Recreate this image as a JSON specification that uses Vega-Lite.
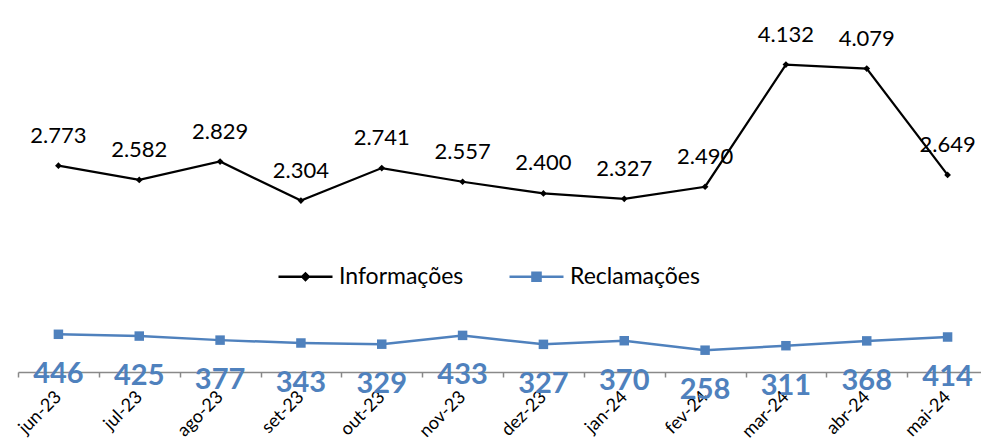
{
  "$schema": "https://vega.github.io/schema/vega-lite/v6.json",
  "width": 963,
  "height": 372,
  "autosize": {"type": "none"},
  "padding": {"left": 18, "top": 0, "right": 0, "bottom": 68},
  "background": "white",
  "config": {
    "view": {"stroke": null},
    "font": "Lato",
    "locale": {"number": {"decimal": ",", "thousands": ".", "grouping": [3], "currency": ["R$", ""]}}
  },
  "data": {
    "values": [
      {"mes": "jun-23", "serie": "Informações", "valor": 2773},
      {"mes": "jul-23", "serie": "Informações", "valor": 2582},
      {"mes": "ago-23", "serie": "Informações", "valor": 2829},
      {"mes": "set-23", "serie": "Informações", "valor": 2304},
      {"mes": "out-23", "serie": "Informações", "valor": 2741},
      {"mes": "nov-23", "serie": "Informações", "valor": 2557},
      {"mes": "dez-23", "serie": "Informações", "valor": 2400},
      {"mes": "jan-24", "serie": "Informações", "valor": 2327},
      {"mes": "fev-24", "serie": "Informações", "valor": 2490},
      {"mes": "mar-24", "serie": "Informações", "valor": 4132},
      {"mes": "abr-24", "serie": "Informações", "valor": 4079},
      {"mes": "mai-24", "serie": "Informações", "valor": 2649},
      {"mes": "jun-23", "serie": "Reclamações", "valor": 446},
      {"mes": "jul-23", "serie": "Reclamações", "valor": 425},
      {"mes": "ago-23", "serie": "Reclamações", "valor": 377},
      {"mes": "set-23", "serie": "Reclamações", "valor": 343},
      {"mes": "out-23", "serie": "Reclamações", "valor": 329},
      {"mes": "nov-23", "serie": "Reclamações", "valor": 433},
      {"mes": "dez-23", "serie": "Reclamações", "valor": 327},
      {"mes": "jan-24", "serie": "Reclamações", "valor": 370},
      {"mes": "fev-24", "serie": "Reclamações", "valor": 258},
      {"mes": "mar-24", "serie": "Reclamações", "valor": 311},
      {"mes": "abr-24", "serie": "Reclamações", "valor": 368},
      {"mes": "mai-24", "serie": "Reclamações", "valor": 414}
    ]
  },
  "encoding": {
    "x": {
      "field": "mes",
      "type": "nominal",
      "sort": null,
      "bandPosition": 0.5,
      "scale": {"type": "band", "range": [0, 970], "paddingInner": 0, "paddingOuter": 0},
      "axis": {
        "title": null,
        "grid": false,
        "labelAngle": -45,
        "labelAlign": "right",
        "labelBaseline": "middle",
        "labelFontSize": 18,
        "labelFont": "Lato",
        "labelColor": "#000000",
        "labelPadding": 17,
        "domainColor": "#898989",
        "domainWidth": 1.5,
        "tickColor": "#898989",
        "tickWidth": 1.5,
        "tickSize": 5,
        "tickBand": "extent"
      }
    }
  },
  "layer": [
    {
      "transform": [{"filter": "datum.serie === 'Informações'"}],
      "encoding": {
        "y": {"field": "valor", "type": "quantitative", "scale": {"domain": [0, 5000]}, "axis": null}
      },
      "layer": [
        {
          "mark": {"type": "line", "strokeWidth": 2.25},
          "encoding": {
            "color": {
              "field": "serie",
              "type": "nominal",
              "scale": {"domain": ["Informações", "Reclamações"], "range": ["#000000", "#4F81BD"]},
              "legend": {
                "title": null,
                "orient": "none",
                "direction": "horizontal",
                "legendX": 259,
                "legendY": 248,
                "padding": 0,
                "labelFontSize": 23,
                "labelFont": "Lato",
                "labelColor": "#000000",
                "labelOffset": 5,
                "columnPadding": 40,
                "symbolSize": 2916,
                "symbolStrokeWidth": 2.5,
                "symbolType": "M-1,0H1",
                "encode": {
                  "symbols": {
                    "update": {
                      "fill": {"scale": "color", "field": "value"},
                      "stroke": {"scale": "color", "field": "value"},
                      "shape": {"signal": "datum.value === 'Informações' ? 'M-1,0H1M-0.12,0L0,-0.12L0.12,0L0,0.12Z' : 'M-1,0H1M-0.15,-0.15H0.15V0.15H-0.15Z'"}
                    }
                  }
                }
              }
            }
          }
        },
        {
          "mark": {"type": "point", "shape": "diamond", "filled": true, "size": 45, "opacity": 1},
          "encoding": {"color": {"field": "serie", "type": "nominal"}}
        },
        {
          "mark": {"type": "text", "dy": -30, "fontSize": 22, "font": "Lato", "color": "#000000", "baseline": "middle"},
          "encoding": {"text": {"field": "valor", "type": "quantitative", "format": ",d"}}
        }
      ]
    },
    {
      "transform": [{"filter": "datum.serie === 'Reclamações'"}],
      "encoding": {
        "y": {"field": "valor", "type": "quantitative", "scale": {"domain": [0, 4400]}, "axis": null}
      },
      "layer": [
        {
          "mark": {"type": "line", "strokeWidth": 2.5},
          "encoding": {"color": {"field": "serie", "type": "nominal"}}
        },
        {
          "mark": {"type": "point", "shape": "square", "filled": true, "size": 90, "opacity": 1},
          "encoding": {"color": {"field": "serie", "type": "nominal"}}
        },
        {
          "mark": {"type": "text", "dy": 40, "fontSize": 29, "fontWeight": "bold", "font": "Lato", "color": "#4F81BD", "baseline": "middle"},
          "encoding": {"text": {"field": "valor", "type": "quantitative", "format": ",d"}}
        }
      ]
    }
  ],
  "resolve": {"scale": {"y": "independent"}}
}
